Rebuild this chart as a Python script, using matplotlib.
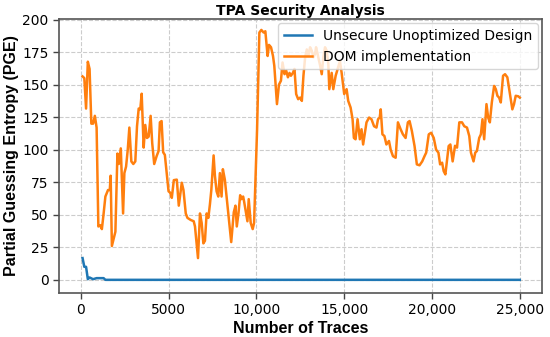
import matplotlib
matplotlib.use("Agg")
import matplotlib.pyplot as plt

# Unsecure Unoptimized Design
blue_traces = [100, 200, 300, 400, 500, 700, 900, 1100, 1300, 1400, 25000]
blue_pge = [16.7, 10, 10, 0.5, 1.8, 0.5, 1.3, 1.3, 1.3, 0, 0]

# DOM implementation
dom_traces = [100, 200, 300, 400, 500, 600, 700, 800, 900, 1000, 1100, 1200, 1300, 1400,
              1550, 1650, 1700, 1770, 1970, 2085, 2164, 2277, 2408, 2481, 2578, 2674, 2765,
              2878, 2991, 3104, 3201, 3297, 3388, 3467, 3580, 3671, 3767, 3864, 3977, 4067,
              4181, 4317, 4430, 4504, 4600, 4691, 4787, 4883, 4997, 5087, 5183, 5297, 5467,
              5580, 5750, 5846, 5977, 6073, 6260, 6430, 6503, 6674, 6787, 6883, 6979, 7070,
              7166, 7263, 7353, 7433, 7563, 7637, 7733, 7829, 7920, 8016, 8090, 8203, 8339,
              8566, 8713, 8809, 8883, 8979, 9075, 9149, 9245, 9302, 9489, 9563, 9676, 9789,
              9868, 10039, 10169, 10282, 10412, 10509, 10582, 10639, 10718, 10832, 10945,
              11019, 11171, 11285, 11398, 11489, 11602, 11698, 11795, 11885, 11965, 12078,
              12169, 12265, 12378, 12491, 12588, 12679, 12775, 12871, 12962, 13058, 13154,
              13245, 13341, 13398, 13528, 13624, 13721, 13811, 13908, 14004, 14095, 14152,
              14287, 14378, 14514, 14627, 14757, 14854, 15001, 15137, 15228, 15364, 15477,
              15551, 15647, 15760, 15891, 15987, 16078, 16270, 16418, 16553, 16701, 16837,
              16927, 17023, 17080, 17176, 17290, 17403, 17550, 17647, 17777, 17930, 18060,
              18213, 18343, 18496, 18626, 18723, 18853, 19006, 19137, 19290, 19443, 19573,
              19669, 19816, 19952, 20099, 20235, 20366, 20462, 20575, 20666, 20762, 20858,
              20949, 21045, 21176, 21312, 21425, 21555, 21708, 21839, 21992, 22122, 22218,
              22365, 22462, 22558, 22688, 22784, 22875, 22971, 23102, 23198, 23294, 23407,
              23538, 23634, 23725, 23821, 23917, 24047, 24160, 24291, 24427, 24575, 24671,
              24767, 24914, 25000]
dom_pge = [156.3, 155, 131.6, 167.6, 162, 120, 120, 126, 117, 41, 42, 39, 51, 64,
           69, 69, 80, 26, 37, 97, 89, 101, 51, 82, 87, 100, 117,
           91, 89, 91, 118, 131.6, 131, 143, 101.6, 119, 109, 110, 126, 105,
           89, 95, 99, 121, 122, 98, 96, 83.5, 68, 67, 63, 76.6, 77,
           57, 74.6, 69, 51, 47.6, 46, 45, 41, 16.7, 51, 43.7, 28, 30,
           51, 47.6, 58, 69, 95.6, 80, 68, 64, 82, 64, 85, 77, 59,
           29, 52, 57, 41, 51, 65, 62, 64, 60, 45, 62, 43.7, 39,
           43.7, 115.7, 190, 192, 190, 191, 180, 172, 180.5, 178.7, 172,
           164.5, 135, 150, 153, 167, 158, 160.7, 155.6, 159, 156.8, 159,
           162, 142.7, 138.8, 140, 137.5, 156.8, 171, 177, 172, 178.7, 176,
           171, 173.5, 178.7, 171, 165, 158, 171, 178.7, 176, 166, 146.5,
           159, 146.5, 156.8, 162, 168, 159, 142.7, 146.5, 137.5, 132.4, 123.4,
           109, 108, 123.4, 108, 115.7, 104, 121, 124.7, 123.4, 118, 117,
           123.4, 124.7, 131, 111.8, 110.5, 104, 106.7, 100, 95, 93.8, 121,
           115.7, 111.8, 109, 121, 122, 114.4, 102.8, 88.7, 88, 91, 95,
           97.7, 111.8, 113, 109, 100, 97.7, 88.7, 90, 83.5, 81, 92.5,
           102.8, 104, 91, 103, 101.6, 121, 121, 118, 117, 110.5, 97.7,
           91, 97.7, 99, 109, 111.8, 123.4, 108, 135, 124.7, 121, 136.3,
           149, 146.5, 141.4, 140, 136.3, 156.8, 158, 155.6, 144, 131, 135,
           141.4, 141, 140]

x_ticks = [0, 5000, 10000, 15000, 20000, 25000]
x_tick_labels = ["0", "5000", "10,000", "15,000", "20,000", "25,000"]
y_ticks = [0, 25, 50, 75, 100, 125, 150, 175, 200]

fig = plt.figure(figsize=(5.5, 3.37), dpi=100)
ax = fig.add_axes([0.107, 0.131, 0.878, 0.813])

ax.plot(blue_traces, blue_pge, color="#1f77b4", lw=1.8, label="Unsecure Unoptimized Design")
ax.plot(dom_traces, dom_pge, color="#ff7f0e", lw=1.8, label="DOM implementation")

ax.set_xlim(-1250, 26250)
ax.set_ylim(-10, 200.5)
ax.set_xticks(x_ticks)
ax.set_xticklabels(x_tick_labels)
ax.set_yticks(y_ticks)
ax.tick_params(labelsize=10, length=4, width=1, color="#444444")
ax.grid(True, linestyle="--", color="#cccccc", linewidth=0.8)
for s in ax.spines.values():
    s.set_color("#555555")
    s.set_linewidth(1.2)

ax.set_xlabel("Number of Traces", fontsize=11.5, fontweight="bold", family="Liberation Sans", labelpad=3)
ax.set_ylabel("Partial Guessing Entropy (PGE)", fontsize=11.5, fontweight="bold", family="Liberation Sans", labelpad=2)
ax.set_title("TPA Security Analysis", fontsize=10, fontweight="bold", pad=3)
ax.legend(loc="upper right", fontsize=10, framealpha=0.8, borderaxespad=0.3)

fig.savefig("out.png", dpi=100)
